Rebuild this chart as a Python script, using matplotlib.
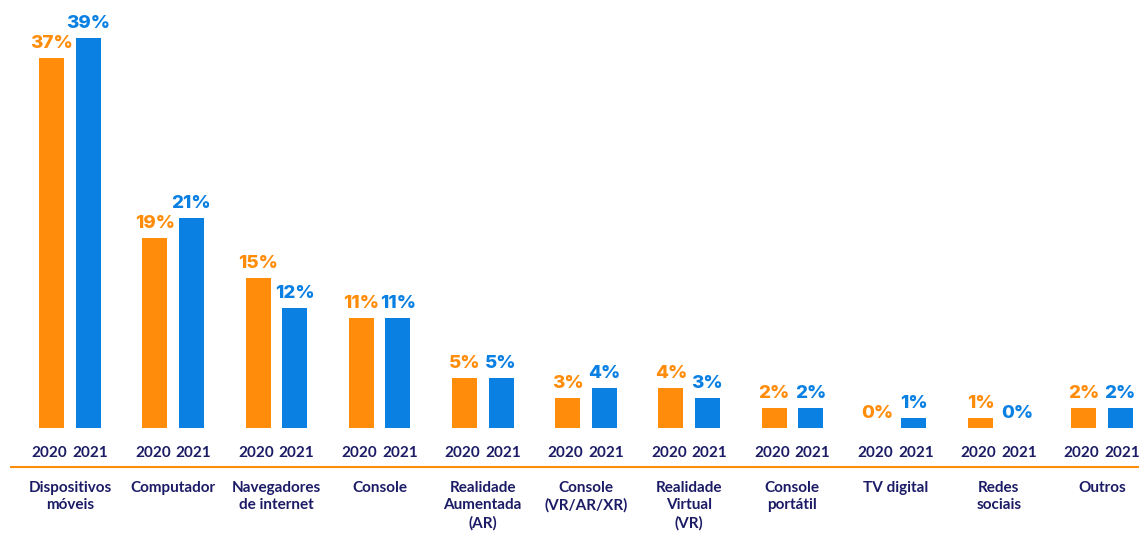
import numpy as np
import matplotlib.pyplot as plt

categories = [
    "Dispositivos\nmóveis", "Computador", "Navegadores\nde internet", "Console",
    "Realidade\nAumentada\n(AR)", "Console\n(VR/AR/XR)", "Realidade\nVirtual\n(VR)",
    "Console\nportátil", "TV digital", "Redes\nsociais", "Outros",
]
years = ["2020", "2021"]
vals_2020 = [37, 19, 15, 11, 5, 3, 4, 2, 0, 1, 2]
vals_2021 = [39, 21, 12, 11, 5, 4, 3, 2, 1, 0, 2]

ORANGE = "#FF8C0A"
BLUE = "#0A80E3"
NAVY = "#1C1C66"

fig = plt.figure(figsize=(11.39, 5.55), dpi=100)
ax = fig.add_axes([0, 0, 1, 1])
ax.set_xlim(-0.678, 10.359)
ax.set_ylim(-12.7, 42.8)
ax.axis("off")

x = np.arange(len(categories))
off = 0.177
w = 0.242

for xs, vals, col in [(x - off, vals_2020, ORANGE), (x + off, vals_2021, BLUE)]:
    ax.bar(xs, vals, width=w, color=col)
    for xi, v in zip(xs, vals):
        ax.text(xi, v + 0.6, f"{v}%", ha="center", va="bottom", color=col,
                fontsize=13.5, fontweight="heavy", family="Inter")

for i in x:
    for dx, yr in zip((-off - 0.02, off + 0.02), years):
        ax.text(i + dx, -2.5, yr, ha="center", va="center", color=NAVY,
                fontsize=11, fontweight="bold", family="Lato")
    ax.text(i, -5.3, categories[i], ha="center", va="top", color=NAVY,
            fontsize=11, fontweight="bold", family="Lato", linespacing=1.3)

ax.plot([-0.58, 10.359], [-3.9, -3.9], color=ORANGE, lw=1.5, solid_capstyle="butt")

fig.savefig("out.png", dpi=100)
